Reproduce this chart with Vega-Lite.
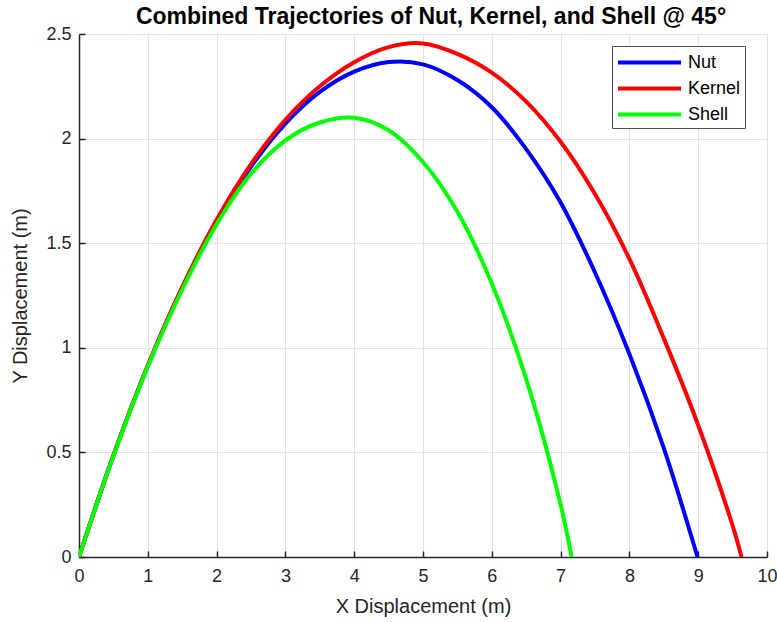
{
  "$schema": "https://vega.github.io/schema/vega-lite/v6.json",
  "autosize": {"type": "none"},
  "padding": {"left": 79, "top": 34, "right": 10, "bottom": 65},
  "width": 688,
  "height": 523,
  "background": "white",
  "title": {
    "text": "Combined Trajectories of Nut, Kernel, and Shell @ 45°",
    "font": "Liberation Sans",
    "fontSize": 23,
    "fontWeight": "bold",
    "color": "#000000",
    "anchor": "middle",
    "offset": -4,
    "dx": 8
  },
  "data": {
    "values": [
      {"series": "Nut", "x": 0, "y": 0},
      {"series": "Nut", "x": 0.5, "y": 0.485},
      {"series": "Nut", "x": 1, "y": 0.914},
      {"series": "Nut", "x": 1.5, "y": 1.287},
      {"series": "Nut", "x": 2, "y": 1.605},
      {"series": "Nut", "x": 2.5, "y": 1.866},
      {"series": "Nut", "x": 3, "y": 2.072},
      {"series": "Nut", "x": 3.5, "y": 2.223},
      {"series": "Nut", "x": 4, "y": 2.32},
      {"series": "Nut", "x": 4.5, "y": 2.366},
      {"series": "Nut", "x": 5, "y": 2.355},
      {"series": "Nut", "x": 5.5, "y": 2.28},
      {"series": "Nut", "x": 6, "y": 2.15},
      {"series": "Nut", "x": 6.5, "y": 1.95},
      {"series": "Nut", "x": 7, "y": 1.695},
      {"series": "Nut", "x": 7.5, "y": 1.36},
      {"series": "Nut", "x": 8, "y": 0.97},
      {"series": "Nut", "x": 8.5, "y": 0.52},
      {"series": "Nut", "x": 8.99, "y": 0},
      {"series": "Kernel", "x": 0, "y": 0},
      {"series": "Kernel", "x": 0.5, "y": 0.485},
      {"series": "Kernel", "x": 1, "y": 0.915},
      {"series": "Kernel", "x": 1.5, "y": 1.29},
      {"series": "Kernel", "x": 2, "y": 1.612},
      {"series": "Kernel", "x": 2.5, "y": 1.878},
      {"series": "Kernel", "x": 3, "y": 2.09},
      {"series": "Kernel", "x": 3.5, "y": 2.25},
      {"series": "Kernel", "x": 4, "y": 2.365},
      {"series": "Kernel", "x": 4.5, "y": 2.437},
      {"series": "Kernel", "x": 5, "y": 2.455},
      {"series": "Kernel", "x": 5.5, "y": 2.405},
      {"series": "Kernel", "x": 6, "y": 2.315},
      {"series": "Kernel", "x": 6.5, "y": 2.177},
      {"series": "Kernel", "x": 7, "y": 1.985},
      {"series": "Kernel", "x": 7.5, "y": 1.735},
      {"series": "Kernel", "x": 8, "y": 1.425},
      {"series": "Kernel", "x": 8.5, "y": 1.045},
      {"series": "Kernel", "x": 9, "y": 0.63},
      {"series": "Kernel", "x": 9.5, "y": 0.15},
      {"series": "Kernel", "x": 9.63, "y": 0},
      {"series": "Shell", "x": 0, "y": 0},
      {"series": "Shell", "x": 0.5, "y": 0.483},
      {"series": "Shell", "x": 1, "y": 0.91},
      {"series": "Shell", "x": 1.5, "y": 1.278},
      {"series": "Shell", "x": 2, "y": 1.59},
      {"series": "Shell", "x": 2.5, "y": 1.832},
      {"series": "Shell", "x": 3, "y": 1.992},
      {"series": "Shell", "x": 3.5, "y": 2.077},
      {"series": "Shell", "x": 4, "y": 2.1},
      {"series": "Shell", "x": 4.5, "y": 2.04},
      {"series": "Shell", "x": 5, "y": 1.888},
      {"series": "Shell", "x": 5.5, "y": 1.65},
      {"series": "Shell", "x": 6, "y": 1.307},
      {"series": "Shell", "x": 6.5, "y": 0.85},
      {"series": "Shell", "x": 7, "y": 0.25},
      {"series": "Shell", "x": 7.16, "y": 0}
    ]
  },
  "mark": {"type": "line", "strokeWidth": 4, "interpolate": "catmull-rom", "clip": true},
  "encoding": {
    "x": {
      "field": "x",
      "type": "quantitative",
      "scale": {"domain": [0, 10], "nice": false, "zero": false},
      "axis": {"title": "X Displacement (m)", "values": [0,1,2,3,4,5,6,7,8,9,10], "format": "d", "labelPadding": 16, "titlePadding": 11}
    },
    "y": {
      "field": "y",
      "type": "quantitative",
      "scale": {"domain": [0, 2.5], "nice": false, "zero": false},
      "axis": {"title": "Y Displacement (m)", "values": [0,0.5,1,1.5,2,2.5], "format": "~g", "labelPadding": 14, "titlePadding": 15}
    },
    "color": {
      "field": "series",
      "type": "nominal",
      "sort": ["Nut", "Kernel", "Shell"],
      "scale": {"domain": ["Nut", "Kernel", "Shell"], "range": ["#0000ff", "#ff0000", "#00ff00"]},
      "legend": {
        "orient": "none",
        "legendX": 533,
        "legendY": 12,
        "title": null,
        "symbolType": "M-3,0H3",
        "symbolSize": 441,
        "symbolStrokeWidth": 4,
        "symbolOffset": 21,
        "labelFontSize": 18,
        "labelFont": "Liberation Sans",
        "labelColor": "#000000",
        "labelOffset": 26,
        "fillColor": "white",
        "strokeColor": "#505050",
        "padding": 4,
        "rowPadding": 4
      }
    }
  },
  "config": {
    "view": {"stroke": null},
    "axis": {
      "domainColor": "#262626",
      "domainWidth": 1.5,
      "tickColor": "#262626",
      "tickWidth": 1.5,
      "tickSize": -6,
      "labelFont": "Liberation Sans",
      "labelFontSize": 18,
      "labelColor": "#262626",
      "titleFont": "Liberation Sans",
      "titleFontSize": 20,
      "titleFontWeight": "normal",
      "titleColor": "#262626",
      "gridColor": "#e3e3e3",
      "gridWidth": 1,
      "labelFlush": false
    }
  }
}
